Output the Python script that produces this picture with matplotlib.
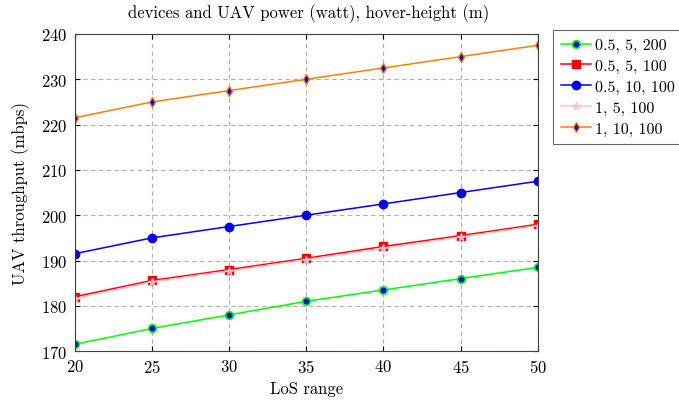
import matplotlib
matplotlib.use("Agg")
import matplotlib.pyplot as plt

plt.rcParams['font.family'] = ['cmr10', 'DejaVu Serif']
plt.rcParams['mathtext.fontset'] = 'cm'
plt.rcParams['axes.formatter.use_mathtext'] = True

x = [20, 25, 30, 35, 40, 45, 50]
labels = ["0.5, 5, 200", "0.5, 5, 100", "0.5, 10, 100", "1, 5, 100", "1, 10, 100"]
green = [171.5, 175, 178, 181, 183.5, 186, 188.5]
red = [182, 185.6, 188, 190.5, 193.1, 195.5, 198]
blue = [191.5, 195, 197.5, 200, 202.5, 205, 207.5]
pink = [181.6, 185.3, 187.7, 190.2, 192.7, 195.2, 197.7]
orange = [221.5, 225, 227.5, 230, 232.5, 235, 237.5]

fig = plt.figure(figsize=(6.79, 4.02), dpi=100)
ax = fig.add_axes([0.110, 0.124, 0.682, 0.789])

ax.plot(x, green, color='#00ff00', marker='o', markersize=5.5, markerfacecolor='blue',
        markeredgecolor='#00ff00', markeredgewidth=1.2, lw=1.1, label=labels[0])
ax.plot(x, red, color='red', marker='s', markersize=5.5, lw=1.1, label=labels[1])
ax.plot(x, blue, color='blue', marker='o', markersize=6, markerfacecolor='blue',
        markeredgecolor='blue', lw=1.1, label=labels[2])
ax.plot(x, blue, color='none', marker='x', markersize=3.5, markeredgecolor='#000080', markeredgewidth=0.6)
ax.plot(x, pink, color='pink', marker='*', markersize=5.5, lw=1.1, label=labels[3])
ax.plot(x, orange, color='#ff8000', marker='d', markersize=5, markerfacecolor='blue',
        markeredgecolor='#ff8000', markeredgewidth=1.0, lw=1.1, label=labels[4])

ax.set_xlim(20, 50)
ax.set_ylim(170, 240)
ax.set_xticks(x)
ax.set_yticks(range(170, 241, 10))
ax.grid(True, linestyle=(0, (4, 3)), color='#b0b0b0', lw=0.8)
ax.tick_params(direction='in', labelsize=12, top=True, right=True, pad=5)
for s in ax.spines.values():
    s.set_color('#404040')
ax.set_xlabel('LoS range', fontsize=12, labelpad=4)
ax.set_ylabel('UAV throughput (mbps)', fontsize=12, labelpad=8)
fig.text(0.455, 0.965, 'devices and UAV power (watt), hover-height (m)', ha='center', va='center', fontsize=12)

leg = ax.legend(loc='upper left', bbox_to_anchor=(553/679, 1 - 31/402), bbox_transform=fig.transFigure,
                fontsize=11.5, fancybox=False, edgecolor='#404040', borderaxespad=0,
                handlelength=1.9, handletextpad=0.2, labelspacing=0.42, borderpad=0.5)
leg.get_frame().set_linewidth(0.8)

fig.savefig('out.png', dpi=100)
